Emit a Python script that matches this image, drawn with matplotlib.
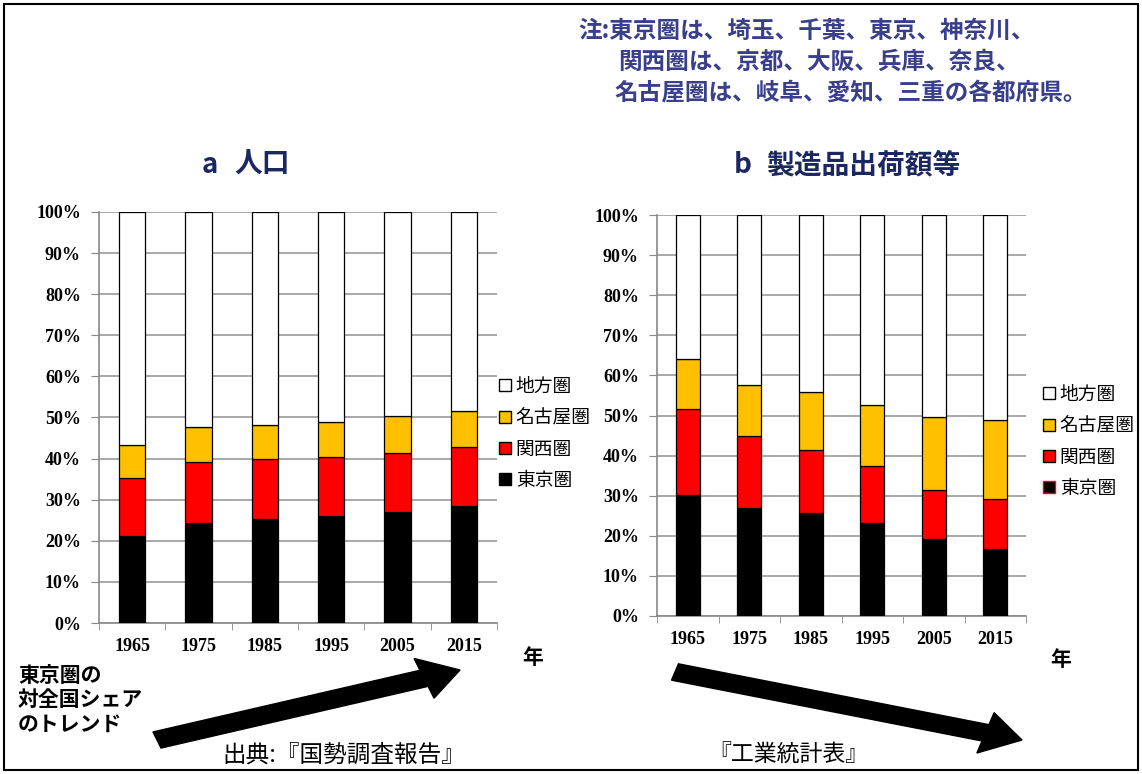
import matplotlib
matplotlib.use("Agg")
import matplotlib.pyplot as plt
from matplotlib.patches import Rectangle, FancyArrow
from matplotlib.lines import Line2D

plt.rcParams['font.family'] = ['Noto Sans CJK JP', 'DejaVu Sans']

years = ['1965', '1975', '1985', '1995', '2005', '2015']
regions = ['東京圏', '関西圏', '名古屋圏', '地方圏']
colors = ['#000000', '#FF0000', '#FFC000', '#FFFFFF']

# population share (%)
pop_tokyo = [21.2, 24.4, 25.2, 26.1, 27.1, 28.5]
pop_kansai = [14.0, 14.8, 14.6, 14.4, 14.3, 14.3]
pop_nagoya = [8.1, 8.4, 8.3, 8.4, 8.9, 8.9]

# manufacturing shipments share (%)
mfg_tokyo = [30.2, 27.0, 25.8, 23.3, 19.1, 16.6]
mfg_kansai = [21.4, 17.9, 15.7, 14.2, 12.3, 12.5]
mfg_nagoya = [12.4, 12.6, 14.3, 15.1, 18.2, 19.7]

W, H = 1142, 774
fig = plt.figure(figsize=(W / 100, H / 100), dpi=100)


def px_axes(x0, y0, x1, y1):
    return fig.add_axes([x0 / W, 1 - y1 / H, (x1 - x0) / W, (y1 - y0) / H])


def stacked(ax, tokyo, kansai, nagoya, bar_w):
    x = list(range(len(years)))
    rest = [100 - a - b - c for a, b, c in zip(tokyo, kansai, nagoya)]
    bottom = [0] * len(years)
    for vals, col in zip([tokyo, kansai, nagoya, rest], colors):
        ax.bar(x, vals, bar_w, bottom=bottom, color=col,
               edgecolor='black', linewidth=0.9, zorder=3)
        bottom = [b + v for b, v in zip(bottom, vals)]
    ax.set_xlim(-0.5, len(years) - 0.5)
    ax.set_ylim(0, 100)
    ax.set_yticks(range(0, 101, 10))
    ax.set_yticklabels([f'{v}%' for v in range(0, 101, 10)],
                       family='Liberation Serif', fontweight='bold', fontsize=13)
    ax.set_xticks(x)
    ax.set_xticklabels(years, family='Liberation Serif', fontweight='bold', fontsize=13)
    ax.set_xticks([i - 0.5 for i in range(len(years) + 1)], minor=True)
    ax.tick_params(axis='x', which='major', length=0, pad=11)
    ax.tick_params(axis='x', which='minor', length=5, color='#888888')
    ax.tick_params(axis='y', length=6, color='#888888', pad=7)
    ax.grid(axis='y', color='#999999', linewidth=1.2, zorder=0)
    for s in ['top', 'right']:
        ax.spines[s].set_visible(False)
    for s in ['left', 'bottom']:
        ax.spines[s].set_color('#888888')
        ax.spines[s].set_linewidth(1.2)


def legend(x, y, tokyo_edge):
    handles = []
    for reg, col in zip(regions[::-1], colors[::-1]):
        ec = tokyo_edge if reg == '東京圏' else 'black'
        handles.append(Line2D([], [], marker='s', linestyle='', markersize=9,
                              markerfacecolor=col, markeredgecolor=ec,
                              markeredgewidth=1))
    fig.legend(handles, regions[::-1], loc='upper left',
               bbox_to_anchor=(x / W, 1 - y / H), frameon=False,
               prop={'size': 13.5}, handlelength=0.7, handletextpad=0.25,
               labelspacing=0.55, borderpad=0, borderaxespad=0)


ax1 = px_axes(99, 212, 497, 623)
stacked(ax1, pop_tokyo, pop_kansai, pop_nagoya, 0.4)
legend(498, 376, 'black')

ax2 = px_axes(657, 215, 1026, 616)
stacked(ax2, mfg_tokyo, mfg_kansai, mfg_nagoya, 0.39)
legend(1042, 384, 'red')

# titles
title_col = '#1a2760'
fig.text(202 / W, 1 - 165 / H, 'a', fontsize=20, fontweight='bold',
         va='center', ha='left', color=title_col)
fig.text(234 / W, 1 - 165 / H, '人口', fontsize=20, fontweight='bold',
         va='center', ha='left', color=title_col)
fig.text(734 / W, 1 - 165 / H, 'b', fontsize=20, fontweight='bold',
         va='center', ha='left', color=title_col)
fig.text(766 / W, 1 - 165 / H, '製造品出荷額等', fontsize=20, fontweight='bold',
         va='center', ha='left', color=title_col)

# note
navy = '#3a3f8c'
fig.text(578 / W, 1 - 31 / H, '注:東京圏は、埼玉、千葉、東京、神奈川、',
         fontsize=17, fontweight='bold', color=navy, va='center')
fig.text(618 / W, 1 - 62 / H, '関西圏は、京都、大阪、兵庫、奈良、',
         fontsize=17, fontweight='bold', color=navy, va='center')
fig.text(614 / W, 1 - 93 / H, '名古屋圏は、岐阜、愛知、三重の各都府県。',
         fontsize=17, fontweight='bold', color=navy, va='center')

# axis unit
fig.text(522 / W, 1 - 657 / H, '年', fontsize=15, fontweight='bold', va='center')
fig.text(1050 / W, 1 - 660 / H, '年', fontsize=15, fontweight='bold', va='center')

# trend text and arrows
fig.text(18 / W, 1 - 700 / H, '東京圏の\n対全国シェア\nのトレンド', fontsize=15,
         fontweight='bold', va='center', ha='left', linespacing=1.2)
fig.patches.append(FancyArrow(157 / W, 1 - 740 / H, 303 / W, 70 / H, width=17 / H,
                              head_width=42 / H, head_length=38 / W,
                              length_includes_head=True, color='black',
                              transform=fig.transFigure, figure=fig))
fig.patches.append(FancyArrow(675 / W, 1 - 672 / H, 347 / W, -68 / H, width=17 / H,
                              head_width=42 / H, head_length=38 / W,
                              length_includes_head=True, color='black',
                              transform=fig.transFigure, figure=fig))

# sources
fig.text(222 / W, 1 - 755 / H, '出典:『国勢調査報告』', fontsize=17, va='center')
fig.text(708 / W, 1 - 755 / H, '『工業統計表』', fontsize=16.5, va='center')

# outer frame
fig.patches.append(Rectangle((4 / W, 4 / H), (W - 8) / W, (H - 8) / H,
                             fill=False, edgecolor='black', linewidth=1.5,
                             transform=fig.transFigure, figure=fig))

fig.savefig('out.png', dpi=100)
